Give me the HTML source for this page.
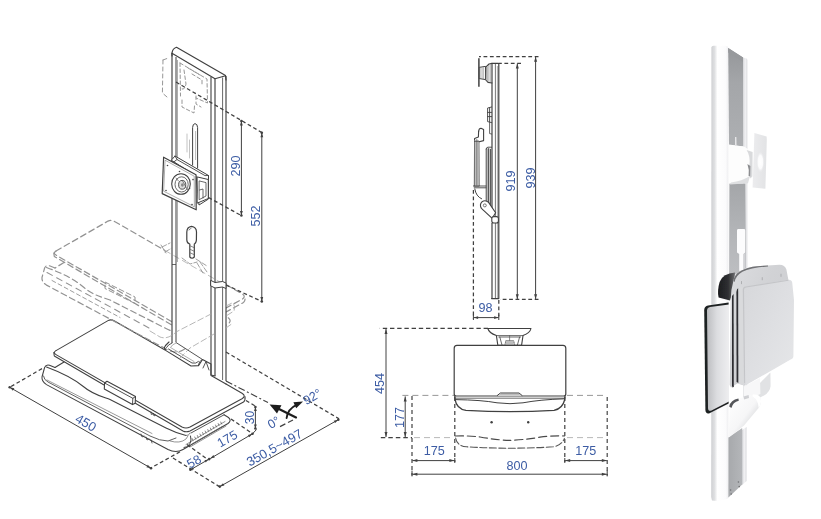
<!DOCTYPE html>
<html lang="en"><head><meta charset="utf-8"><title>Wall mount workstation dimensions</title>
<style>
html,body{margin:0;padding:0;background:#fff;}
body{width:821px;height:519px;overflow:hidden;}
svg{display:block;font-family:"Liberation Sans","DejaVu Sans",sans-serif;}
</style></head><body>
<svg width="821" height="519" viewBox="0 0 821 519">
<defs>
<filter id="soft" x="-5%" y="-5%" width="110%" height="110%"><feGaussianBlur stdDeviation="0.55"/></filter>
<filter id="soft2" x="-5%" y="-5%" width="110%" height="110%"><feGaussianBlur stdDeviation="0.7"/></filter>

<linearGradient id="gcol" x1="0" x2="1" y1="0" y2="0"><stop offset="0" stop-color="#cfd0d3"/><stop offset="0.2" stop-color="#dfe0e2"/><stop offset="0.36" stop-color="#ffffff"/><stop offset="0.85" stop-color="#fbfbfc"/><stop offset="1" stop-color="#eeeeF0"/></linearGradient>
<linearGradient id="ggrey" x1="0" x2="0" y1="0" y2="1"><stop offset="0" stop-color="#949699"/><stop offset="0.35" stop-color="#a4a6a9"/><stop offset="1" stop-color="#adafb2"/></linearGradient>
<linearGradient id="ggrey3" x1="0" x2="1" y1="0" y2="0"><stop offset="0" stop-color="#a7a9ac"/><stop offset="1" stop-color="#b4b6b9"/></linearGradient>
<radialGradient id="gglow" cx="0.5" cy="0.5" r="0.5"><stop offset="0" stop-color="#ffffff"/><stop offset="0.6" stop-color="#fbfbfc"/><stop offset="1" stop-color="#e6e7e9" stop-opacity="0"/></radialGradient>
<linearGradient id="ggrey2" x1="0" x2="0" y1="0" y2="1"><stop offset="0" stop-color="#a4a6a9"/><stop offset="0.4" stop-color="#b2b4b7"/><stop offset="1" stop-color="#c3c4c7"/></linearGradient>
<linearGradient id="gedge" x1="0" x2="1" y1="0" y2="0"><stop offset="0" stop-color="#d4d5d8"/><stop offset="0.5" stop-color="#f2f2f4"/><stop offset="1" stop-color="#dcdde0"/></linearGradient>
<linearGradient id="gtrayb" x1="0" x2="1" y1="0" y2="1"><stop offset="0" stop-color="#dcdde0"/><stop offset="0.4" stop-color="#d1d2d5"/><stop offset="1" stop-color="#cbccd0"/></linearGradient>
<linearGradient id="gtrayf" x1="0" x2="1" y1="0" y2="1"><stop offset="0" stop-color="#d6d7da"/><stop offset="0.5" stop-color="#dedfe2"/><stop offset="1" stop-color="#e6e7e9"/></linearGradient>
<linearGradient id="gkb" x1="0" x2="1" y1="0" y2="0"><stop offset="0" stop-color="#bcbdc0"/><stop offset="0.45" stop-color="#dcdde0"/><stop offset="1" stop-color="#eeeef0"/></linearGradient>
<linearGradient id="gcyl" x1="0" x2="1" y1="0" y2="1"><stop offset="0" stop-color="#ffffff"/><stop offset="0.5" stop-color="#f6f6f7"/><stop offset="0.8" stop-color="#cfd0d3"/><stop offset="1" stop-color="#b9babd"/></linearGradient>
<linearGradient id="gvesa" x1="0" x2="1" y1="0" y2="0"><stop offset="0" stop-color="#ececee"/><stop offset="1" stop-color="#e2e3e5"/></linearGradient>
<linearGradient id="gblk" x1="0" x2="1" y1="0" y2="0"><stop offset="0" stop-color="#1b1c1e"/><stop offset="0.6" stop-color="#2f3032"/><stop offset="1" stop-color="#6d6e71"/></linearGradient>

</defs>
<rect width="821" height="519" fill="#ffffff"/>
<g filter="url(#soft)">
<g id="iso">
<path d="M56,350.6 L108,320.6 Q111,319 114.5,321 L166,351 L191,366 L198.5,365.6 L211,372 L226,384 L242,393.3 Q246.5,396 243.5,402 L190,431 Q186,432.6 183,431 L54.3,356 Z" stroke="#fff" stroke-width="0.1" fill="#fff" stroke-linejoin="round" stroke-linecap="round"/>
<path d="M56,350.6 L108,320.6 Q111,319 114.5,321 L165,350" stroke="#404040" stroke-width="1.05" fill="none" stroke-linejoin="round" stroke-linecap="round"/>
<path d="M56,350.6 Q52.5,352.5 56,354.6 L182,427 Q186,429 190,427 L242,398.8 Q246.5,396 242,393.3 L226,384" stroke="#404040" stroke-width="1.05" fill="none" stroke-linejoin="round" stroke-linecap="round"/>
<path d="M53.8,352.6 L54.3,356 L183,431 Q186,432.6 190,431 L243.5,402 Q245.5,400.5 245,396.5" stroke="#404040" stroke-width="1.05" fill="none" stroke-linejoin="round" stroke-linecap="round"/>
<path d="M211,375.5 L226,384" stroke="#404040" stroke-width="1.1" fill="none" stroke-linejoin="round" stroke-linecap="round"/>
<path d="M104.6,383 L107,381.2 L135.5,396.6 L135.2,403.2 L132.5,404.6 L104.3,389 Z" stroke="#404040" stroke-width="1.1" fill="#fff" stroke-linejoin="round" stroke-linecap="round"/>
<path d="M104.6,383 L132.8,398.3 L135.5,396.6 M132.8,398.3 L132.5,404.6" stroke="#404040" stroke-width="0.9" fill="none" stroke-linejoin="round" stroke-linecap="round"/>
<path d="M151,412 L151.3,414.5 L153,414 M153.5,413.4 L154,416 L155.6,415" stroke="#404040" stroke-width="0.8" fill="none" stroke-linejoin="round" stroke-linecap="round"/>
<path d="M64,362 L55,367.5" stroke="#404040" stroke-width="1.05" fill="none" stroke-linejoin="round" stroke-linecap="round"/>
<path d="M55,367.5 L49.5,365.3 Q46,364.3 44.6,367.5 L42,377 Q41.5,381.5 46.5,384.6 L168,449.5 Q176,453.5 183,449.5 L228,423.5 Q232,420.5 228.5,417.5 L224,414.8" stroke="#404040" stroke-width="1.05" fill="none" stroke-linejoin="round" stroke-linecap="round"/>
<path d="M46.5,367 C60,372 72,377 84,387 C92,394 100,396 110,399.5 L166,428 Q176,433 186,435.5" stroke="#404040" stroke-width="1.05" fill="none" stroke-linejoin="round" stroke-linecap="round"/>
<path d="M43.5,376 Q44,380 48,382 L150,436 Q160,441 168,441 L176,438" stroke="#404040" stroke-width="0.8400000000000001" fill="none" stroke-linejoin="round" stroke-linecap="round"/>
<path d="M47,380 L152,433.5" stroke="#777" stroke-width="0.735" fill="none" stroke-linejoin="round" stroke-linecap="round"/>
<path d="M170,441 Q180,444 186,439 L188,435.8 M186,435.5 Q189,436 190,433 M190,447 L226,426 M192,444 L222,426.6 M186,444.5 L225,421.5" stroke="#666" stroke-width="0.7" fill="none" stroke-linejoin="round" stroke-linecap="round"/>
<path d="M184,447.5 Q190,447 191,440 L190.5,436" stroke="#404040" stroke-width="1.0" fill="none" stroke-linejoin="round" stroke-linecap="round"/>
<path d="M141,434 l1,3 l2,-1 M146,437 l1,3 l2,-1 M151,440 l1,3" stroke="#444" stroke-width="0.8" fill="none" stroke-linejoin="round" stroke-linecap="round"/>
<line x1="192.0" y1="438.2" x2="193.2" y2="440.8" stroke="#555" stroke-width="0.7" stroke-linecap="butt"/>
<line x1="194.6" y1="436.7" x2="195.79999999999998" y2="439.3" stroke="#555" stroke-width="0.7" stroke-linecap="butt"/>
<line x1="197.2" y1="435.2" x2="198.39999999999998" y2="437.8" stroke="#555" stroke-width="0.7" stroke-linecap="butt"/>
<line x1="199.8" y1="433.7" x2="201.0" y2="436.3" stroke="#555" stroke-width="0.7" stroke-linecap="butt"/>
<line x1="202.4" y1="432.2" x2="203.6" y2="434.8" stroke="#555" stroke-width="0.7" stroke-linecap="butt"/>
<line x1="205.0" y1="430.7" x2="206.2" y2="433.3" stroke="#555" stroke-width="0.7" stroke-linecap="butt"/>
<line x1="207.6" y1="429.2" x2="208.79999999999998" y2="431.8" stroke="#555" stroke-width="0.7" stroke-linecap="butt"/>
<line x1="210.2" y1="427.7" x2="211.39999999999998" y2="430.3" stroke="#555" stroke-width="0.7" stroke-linecap="butt"/>
<line x1="212.8" y1="426.2" x2="214.0" y2="428.8" stroke="#555" stroke-width="0.7" stroke-linecap="butt"/>
<line x1="215.4" y1="424.7" x2="216.6" y2="427.3" stroke="#555" stroke-width="0.7" stroke-linecap="butt"/>
<line x1="218.0" y1="423.2" x2="219.2" y2="425.8" stroke="#555" stroke-width="0.7" stroke-linecap="butt"/>
<line x1="220.6" y1="421.7" x2="221.79999999999998" y2="424.3" stroke="#555" stroke-width="0.7" stroke-linecap="butt"/>
<path d="M224,414.8 L191,433" stroke="#404040" stroke-width="0.9" fill="none" stroke-linejoin="round" stroke-linecap="round"/>
<path d="M56,251.10000000000002 L108,221.10000000000002 Q111,219.5 114.5,221.5 L165,250.5" stroke="#929292" stroke-width="1.2" fill="none" stroke-dasharray="6 3.5" stroke-linejoin="round" stroke-linecap="round"/>
<path d="M56,251.10000000000002 Q52.5,253.0 56,255.10000000000002 L182,327.5 Q186,329.5 190,327.5 L242,299.3 Q246.5,296.5 242,293.8 L226,284.5" stroke="#929292" stroke-width="1.2" fill="none" stroke-dasharray="6 3.5" stroke-linejoin="round" stroke-linecap="round"/>
<path d="M53.8,253.10000000000002 L54.3,256.5 L183,331.5 Q186,333.1 190,331.5 L243.5,302.5 Q245.5,301.0 245,297.0" stroke="#929292" stroke-width="1.2" fill="none" stroke-dasharray="6 3.5" stroke-linejoin="round" stroke-linecap="round"/>
<path d="M64,262.5 L55,268.0" stroke="#929292" stroke-width="1.2" fill="none" stroke-dasharray="6 3.5" stroke-linejoin="round" stroke-linecap="round"/>
<path d="M55,268.0 L49.5,265.8 Q46,264.8 44.6,268.0 L42,277.5 Q41.5,282.0 46.5,285.1 L168,350.0 Q176,354.0 183,350.0 L228,324.0 Q232,321.0 228.5,318.0 L224,315.3" stroke="#929292" stroke-width="1.2" fill="none" stroke-dasharray="6 3.5" stroke-linejoin="round" stroke-linecap="round"/>
<path d="M46.5,267.5 C60,272.5 72,277.5 84,287.5 C92,294.5 100,296.5 110,300.0 L166,328.5 Q176,333.5 186,336.0" stroke="#929292" stroke-width="1.2" fill="none" stroke-dasharray="6 3.5" stroke-linejoin="round" stroke-linecap="round"/>
<path d="M47,272.5 L150,328.5" stroke="#929292" stroke-width="1.1" fill="none" stroke-dasharray="6 5" stroke-linejoin="round" stroke-linecap="round"/>
<path d="M52,280.5 L120,317.5" stroke="#929292" stroke-width="0.9" fill="none" stroke-dasharray="4 3" stroke-linejoin="round" stroke-linecap="round"/>
<path d="M105,282.0 L135,297.0 L135,303.5 L105,288.5 Z" stroke="#929292" stroke-width="1.0" fill="none" stroke-dasharray="5 3" stroke-linejoin="round" stroke-linecap="round"/>
<path d="M172,53 L176,47.2 L226,76 L226,380 L222.5,380 L215,375.5 L211,375 L211,363 L176,343 L172,343 Z" stroke="#fff" stroke-width="0.1" fill="#fff" stroke-linejoin="round" stroke-linecap="round"/>
<path d="M165,250.5 L226,285.5" stroke="#b5b5b5" stroke-width="0.9" fill="none" stroke-dasharray="6 4" stroke-linejoin="round" stroke-linecap="round"/>
<path d="M150,328.5 L226,370.5" stroke="#b5b5b5" stroke-width="0.0" fill="none" stroke-linejoin="round" stroke-linecap="round"/>
<path d="M172,56 L172,53 Q172.6,48.5 176.5,47.3 L225.5,75.6 L226,80" stroke="#404040" stroke-width="1.2" fill="none" stroke-linejoin="round" stroke-linecap="round"/>
<path d="M172,53.2 L215,78.8 L225.5,75.8" stroke="#404040" stroke-width="1.1" fill="none" stroke-linejoin="round" stroke-linecap="round"/>
<line x1="172" y1="53" x2="172" y2="343" stroke="#404040" stroke-width="1.15" stroke-linecap="butt"/>
<line x1="176" y1="57" x2="176" y2="342" stroke="#404040" stroke-width="1.0" stroke-linecap="butt"/>
<line x1="177.4" y1="60" x2="177.4" y2="262" stroke="#666" stroke-width="0.6" stroke-linecap="butt"/>
<line x1="211" y1="77" x2="211" y2="375" stroke="#404040" stroke-width="1.1" stroke-linecap="butt"/>
<line x1="215" y1="79" x2="215" y2="376" stroke="#404040" stroke-width="1.15" stroke-linecap="butt"/>
<line x1="222.6" y1="77.5" x2="222.6" y2="380" stroke="#555" stroke-width="0.9" stroke-linecap="butt"/>
<line x1="226" y1="76" x2="226" y2="381" stroke="#404040" stroke-width="1.15" stroke-linecap="butt"/>
<line x1="172" y1="264.5" x2="176" y2="264.5" stroke="#404040" stroke-width="0.8" stroke-linecap="butt"/>
<path d="M211,280.5 L215,282.5 L222.5,281.5 L226,283 L226,288.5 L222.5,287 L215,288 L211,286 Z" stroke="#404040" stroke-width="1.0" fill="#fff" stroke-linejoin="round" stroke-linecap="round"/>
<path d="M192.6,165 L192.6,127.5 Q192.8,123.8 195,123.6 Q197.4,123.8 197.6,127.5 L197.6,168" stroke="#404040" stroke-width="1.0" fill="none" stroke-linejoin="round" stroke-linecap="round"/>
<line x1="195.6" y1="131" x2="195.6" y2="160" stroke="#888" stroke-width="0.6" stroke-linecap="butt"/>
<path d="M187,134 L187,152 M189.5,140 L189.5,158" stroke="#aaa" stroke-width="0.7" fill="none" stroke-linejoin="round" stroke-linecap="round"/>
<path d="M163,60 L167,58.5 M163,60 L162.4,93 L167,97" stroke="#969696" stroke-width="1.0" fill="none" stroke-dasharray="4 3" stroke-linejoin="round" stroke-linecap="round"/>
<path d="M180,63 L207,79 L207.5,103 L196,98 M180,63 L180.5,96 M184,70 L186,84 Q184,92 181,88 M188,68 L200,75 M192,74 L202,80 L202,86 M196,96 L196,104 L201,107 M182,100 L182,107 L194,113 L194.5,106" stroke="#969696" stroke-width="1.0" fill="none" stroke-dasharray="3.5 2.5" stroke-linejoin="round" stroke-linecap="round"/>
<path d="M171.5,160 L175,156 L208.5,175.5 L208.5,199 L199,205 L196,176 Z" stroke="#404040" stroke-width="1.0" fill="#fff" stroke-linejoin="round" stroke-linecap="round"/>
<path d="M175,156 L177,159.5 L205,175.6 L208.5,175.5 M177,159.5 L173,162.6" stroke="#404040" stroke-width="0.9" fill="none" stroke-linejoin="round" stroke-linecap="round"/>
<path d="M197.5,177 L208.3,179.5 L208.3,198.5 L197.5,203 Z" stroke="#404040" stroke-width="1.0" fill="#fff" stroke-linejoin="round" stroke-linecap="round"/>
<path d="M199.5,181 L206,182.6 L206,196 L199.5,199.5 Z M199.5,190 L203,189 L203,198" stroke="#444" stroke-width="0.8" fill="none" stroke-linejoin="round" stroke-linecap="round"/>
<path d="M163.6,157.2 L196,174.8 L196.2,209.8 L162.2,193.6 Z" stroke="#404040" stroke-width="1.2" fill="#fff" stroke-linejoin="round" stroke-linecap="round"/>
<path d="M165.4,160.4 L194.2,176.2 L194.4,206.8 L164,191.4 Z" stroke="#777" stroke-width="0.6" fill="none" stroke-linejoin="round" stroke-linecap="round"/>
<ellipse cx="181" cy="184" rx="9.3" ry="10.3" fill="#fff" stroke="#404040" stroke-width="1.1"/>
<ellipse cx="181.6" cy="184.4" rx="6.6" ry="7.6" fill="none" stroke="#444" stroke-width="0.8"/>
<ellipse cx="182.2" cy="184.8" rx="3.6" ry="4.4" fill="#ddd" stroke="#404040" stroke-width="0.9"/>
<ellipse cx="182.4" cy="185" rx="1.4" ry="1.8" fill="#888" stroke="none"/>
<path d="M182.2,180.4 L188,190.5 M176,178 L178.5,181" stroke="#555" stroke-width="0.7" fill="none" stroke-linejoin="round" stroke-linecap="round"/>
<circle cx="167.5" cy="165.5" r="0.8" fill="#444"/>
<circle cx="193" cy="179.6" r="0.8" fill="#444"/>
<circle cx="166" cy="190.5" r="0.8" fill="#444"/>
<circle cx="192" cy="204.5" r="0.8" fill="#444"/>
<circle cx="179.5" cy="171.5" r="0.8" fill="#444"/>
<circle cx="189.5" cy="188.5" r="0.8" fill="#444"/>
<path d="M186.8,232 Q187,227 191.5,226.4 Q196.4,227 196.5,232 L196.4,240 Q196,243.5 194.3,244 L194.3,257 Q192,259.5 189.8,257 L189.8,244 Q187,243.5 186.8,240 Z" stroke="#404040" stroke-width="1.2" fill="#fff" stroke-linejoin="round" stroke-linecap="round"/>
<path d="M189,230 Q189.5,228.6 191,228.4 M190.5,246 L193.6,247.4 M190.5,249.5 L193.6,251 M190.5,253 L193.6,254.4" stroke="#555" stroke-width="0.7" fill="none" stroke-linejoin="round" stroke-linecap="round"/>
<path d="M162,247 L170,243 M165,252 L172,248 M161,245 L166,253" stroke="#8a8a8a" stroke-width="0.8" fill="none" stroke-dasharray="5 2" stroke-linejoin="round" stroke-linecap="round"/>
<path d="M182,258 L190,264 L197,262 M196,259 L207,266 M200,262 L207,272 M197,263 L203,273" stroke="#8a8a8a" stroke-width="0.8" fill="none" stroke-dasharray="5 2" stroke-linejoin="round" stroke-linecap="round"/>
<path d="M169,342 L165.5,345.5 L164.3,347.8 L166,350.6 L191,366 L198.5,365.6 L202.5,359.5 L211,364 L211,375 L215,376" stroke="#404040" stroke-width="1.1" fill="none" stroke-linejoin="round" stroke-linecap="round"/>
<path d="M172,343 Q168,344.5 166.5,347.5 M176,342.5 L202.5,359.5 M168.5,349 L192,363 Q196,364 198.5,361.5 M202.5,359.5 Q199,360.5 198.5,365.6 M203,368 L206,361.5 L209,370" stroke="#404040" stroke-width="0.9" fill="none" stroke-linejoin="round" stroke-linecap="round"/>
<path d="M176,343 Q172,344.5 170.5,347.5 L194,361.5" stroke="#777" stroke-width="0.6" fill="none" stroke-linejoin="round" stroke-linecap="round"/>
<path d="M150,331 L160,337 Q168,340 176,332 L211,314 M226,306 L232,303 Q236,305 234,311 L226,316 M180,358 L190,348 L214,334 M226,328 L233,323" stroke="#a5a5a5" stroke-width="0.8" fill="none" stroke-dasharray="6 3" stroke-linejoin="round" stroke-linecap="round"/>
<line x1="176" y1="82" x2="262" y2="132.6" stroke="#404040" stroke-width="1.25" stroke-dasharray="3.8 2.6" stroke-linecap="butt"/>
<line x1="208.5" y1="197.5" x2="241.4" y2="215.6" stroke="#404040" stroke-width="1.25" stroke-dasharray="3.8 2.6" stroke-linecap="butt"/>
<line x1="226" y1="285" x2="262" y2="301.5" stroke="#404040" stroke-width="1.25" stroke-dasharray="3.8 2.6" stroke-linecap="butt"/>
<line x1="226" y1="352" x2="339" y2="418.8" stroke="#404040" stroke-width="1.25" stroke-dasharray="3.8 2.6" stroke-linecap="butt"/>
<line x1="226" y1="381" x2="268" y2="402.6" stroke="#404040" stroke-width="1.1" stroke-dasharray="7 2.5 2 2.5" stroke-linecap="butt"/>
<line x1="42" y1="368.6" x2="9.7" y2="387.3" stroke="#404040" stroke-width="1.25" stroke-dasharray="3.8 2.6" stroke-linecap="butt"/>
<line x1="180" y1="451.8" x2="150.7" y2="468" stroke="#404040" stroke-width="1.25" stroke-dasharray="3.8 2.6" stroke-linecap="butt"/>
<line x1="173" y1="458" x2="220" y2="487" stroke="#404040" stroke-width="1.25" stroke-dasharray="3.8 2.6" stroke-linecap="butt"/>
<line x1="187" y1="444.5" x2="208.5" y2="460" stroke="#404040" stroke-width="1.25" stroke-dasharray="3.8 2.6" stroke-linecap="butt"/>
<line x1="231" y1="419" x2="253" y2="434" stroke="#404040" stroke-width="1.25" stroke-dasharray="3.8 2.6" stroke-linecap="butt"/>
<line x1="246" y1="400.5" x2="255.5" y2="406.2" stroke="#404040" stroke-width="1.25" stroke-dasharray="3.8 2.6" stroke-linecap="butt"/>
<line x1="280" y1="426.6" x2="293" y2="420" stroke="#404040" stroke-width="1.2" stroke-dasharray="6 3" stroke-linecap="butt"/>
<line x1="241.4" y1="121" x2="241.4" y2="215.5" stroke="#404040" stroke-width="1.0" stroke-linecap="butt"/>
<polygon points="241.4,215.5 240.0,211.0 242.8,211.0" fill="#404040"/>
<polygon points="241.4,121.0 242.8,125.5 240.0,125.5" fill="#404040"/>
<line x1="261.8" y1="132.7" x2="261.8" y2="301.5" stroke="#404040" stroke-width="1.0" stroke-linecap="butt"/>
<polygon points="261.8,301.5 260.4,297.0 263.2,297.0" fill="#404040"/>
<polygon points="261.8,132.7 263.2,137.2 260.4,137.2" fill="#404040"/>
<line x1="9.7" y1="387.3" x2="151" y2="468.2" stroke="#404040" stroke-width="1.0" stroke-linecap="butt"/>
<polygon points="151.0,468.2 146.4,467.2 147.8,464.7" fill="#404040"/>
<polygon points="9.7,387.3 14.3,388.3 12.9,390.8" fill="#404040"/>
<line x1="219.8" y1="486.6" x2="338.3" y2="419.7" stroke="#404040" stroke-width="1.0" stroke-linecap="butt"/>
<polygon points="338.3,419.7 335.1,423.1 333.7,420.7" fill="#404040"/>
<polygon points="219.8,486.6 223.0,483.2 224.4,485.6" fill="#404040"/>
<line x1="190.4" y1="469.8" x2="208.2" y2="459.6" stroke="#404040" stroke-width="1.0" stroke-linecap="butt"/>
<polygon points="208.2,459.6 205.8,462.5 204.5,460.2" fill="#404040"/>
<polygon points="190.4,469.8 192.8,466.9 194.1,469.2" fill="#404040"/>
<line x1="210.2" y1="458.6" x2="252.5" y2="433.8" stroke="#404040" stroke-width="1.0" stroke-linecap="butt"/>
<polygon points="252.5,433.8 249.3,437.3 247.9,434.9" fill="#404040"/>
<polygon points="210.2,458.6 213.4,455.1 214.8,457.5" fill="#404040"/>
<line x1="255.4" y1="407" x2="255.4" y2="428.5" stroke="#404040" stroke-width="1.0" stroke-linecap="butt"/>
<polygon points="255.4,428.5 254.0,424.5 256.8,424.5" fill="#404040"/>
<polygon points="255.4,407.0 256.8,411.0 254.0,411.0" fill="#404040"/>
<line x1="252.5" y1="433.8" x2="256.5" y2="429.5" stroke="#404040" stroke-width="1.0" stroke-linecap="butt"/>
<circle cx="241.4" cy="121" r="1.3" fill="#404040"/>
<circle cx="241.4" cy="215.5" r="1.3" fill="#404040"/>
<circle cx="261.8" cy="132.7" r="1.3" fill="#404040"/>
<circle cx="261.8" cy="301.5" r="1.3" fill="#404040"/>
<circle cx="9.7" cy="387.3" r="1.3" fill="#404040"/>
<circle cx="151" cy="468.2" r="1.3" fill="#404040"/>
<circle cx="219.8" cy="486.6" r="1.3" fill="#404040"/>
<circle cx="338.3" cy="419.7" r="1.3" fill="#404040"/>
<circle cx="190.4" cy="469.8" r="1.3" fill="#404040"/>
<circle cx="209.2" cy="459.1" r="1.3" fill="#404040"/>
<circle cx="252.5" cy="433.8" r="1.3" fill="#404040"/>
<circle cx="255.4" cy="407" r="1.3" fill="#404040"/>
<circle cx="255.4" cy="428.5" r="1.3" fill="#404040"/>
<path d="M296,417.4 L279,409" stroke="#1c1c1c" stroke-width="2.2" fill="none" stroke-linejoin="round" stroke-linecap="round"/>
<polygon points="269.6,404.6 281.5,405.2 277,413.6" fill="#1c1c1c"/>
<path d="M286.6,418.2 Q287.5,409 297,404.6" stroke="#1c1c1c" stroke-width="1.8" fill="none" stroke-linejoin="round" stroke-linecap="round"/>
<polygon points="303,401.6 296.2,408.2 293.4,402.2" fill="#1c1c1c"/>
<text x="239.6" y="166" transform="rotate(-90 239.6 166)" font-size="12.6" fill="#3c5ca4" text-anchor="middle">290</text>
<text x="260" y="216" transform="rotate(-90 260 216)" font-size="12.6" fill="#3c5ca4" text-anchor="middle">552</text>
<text x="83.6" y="426.6" transform="rotate(30 83.6 426.6)" font-size="13" fill="#3c5ca4" text-anchor="middle">450</text>
<text x="196.2" y="465.2" transform="rotate(-30 196.2 465.2)" font-size="12.6" fill="#3c5ca4" text-anchor="middle">58</text>
<text x="229.4" y="442.4" transform="rotate(-30 229.4 442.4)" font-size="12.6" fill="#3c5ca4" text-anchor="middle">175</text>
<text x="253.6" y="417.6" transform="rotate(-90 253.6 417.6)" font-size="12" fill="#3c5ca4" text-anchor="middle">30</text>
<text x="276.6" y="451.6" transform="rotate(-29.5 276.6 451.6)" font-size="13" fill="#3c5ca4" text-anchor="middle">350,5~497</text>
<text x="276" y="426.2" transform="rotate(-30 276 426.2)" font-size="12.6" fill="#3c5ca4" text-anchor="middle">0°</text>
<text x="314.4" y="400.4" transform="rotate(-30 314.4 400.4)" font-size="12.6" fill="#3c5ca4" text-anchor="middle">92°</text>
</g>
<g id="side">
<line x1="538.5" y1="56.6" x2="479" y2="56.6" stroke="#404040" stroke-width="1.25" stroke-dasharray="3.8 2.6" stroke-linecap="butt"/>
<line x1="521" y1="63.4" x2="498.6" y2="63.4" stroke="#404040" stroke-width="1.25" stroke-dasharray="3.8 2.6" stroke-linecap="butt"/>
<line x1="478.9" y1="58.2" x2="478.9" y2="86.8" stroke="#404040" stroke-width="1.5" stroke-linecap="butt"/>
<path d="M479.6,67.3 L485.6,66.4 L485.6,79.6 L479.6,78.6 Z" stroke="#404040" stroke-width="1.0" fill="#fff" stroke-linejoin="round" stroke-linecap="round"/>
<path d="M480.8,68 L480.8,78 M482.2,68 L482.2,78.4 M483.6,67.6 L483.6,78.8" stroke="#777" stroke-width="0.5" fill="none" stroke-linejoin="round" stroke-linecap="round"/>
<path d="M492,63.4 L489,64 L486,66.8 L485.8,80 L488,82.4 L492,83" stroke="#404040" stroke-width="1.1" fill="#fff" stroke-linejoin="round" stroke-linecap="round"/>
<path d="M487.4,67 L487.4,80.6 M488.8,65.4 L488.8,81.8 M490.3,64.6 L490.3,82.4" stroke="#666" stroke-width="0.5" fill="none" stroke-linejoin="round" stroke-linecap="round"/>
<path d="M492,63.4 L498.2,63.4 Q498.8,63.4 498.8,64.4 L498.8,298.6 L491.6,298.6" stroke="#404040" stroke-width="1.2" fill="none" stroke-linejoin="round" stroke-linecap="round"/>
<line x1="492" y1="63.4" x2="492" y2="216.5" stroke="#404040" stroke-width="1.2" stroke-linecap="butt"/>
<line x1="492" y1="223" x2="492" y2="298.6" stroke="#404040" stroke-width="1.2" stroke-linecap="butt"/>
<line x1="495.4" y1="64" x2="495.4" y2="298" stroke="#555" stroke-width="0.8" stroke-linecap="butt"/>
<line x1="497.4" y1="66" x2="497.4" y2="298" stroke="#777" stroke-width="0.6" stroke-linecap="butt"/>
<path d="M491.6,107 L487.6,108 L487.6,121.6 L491.6,122.6 M487.6,112.4 L491.6,112.4 M487.6,116.6 L491.6,116.6 M489.6,108 L489.6,122" stroke="#404040" stroke-width="0.9" fill="none" stroke-linejoin="round" stroke-linecap="round"/>
<path d="M489.6,122.6 L489.6,133.6 L491.6,134" stroke="#404040" stroke-width="0.8" fill="none" stroke-linejoin="round" stroke-linecap="round"/>
<path d="M478.6,131.6 Q478.8,128.4 481,128.3 L483.6,129.6 L483.6,140.6 L479.2,141.8" stroke="#404040" stroke-width="1.1" fill="#fff" stroke-linejoin="round" stroke-linecap="round"/>
<path d="M478.6,131.6 L478.4,137 L474.6,138.4 L474.4,186 L479,186 L478.8,141.8" stroke="#404040" stroke-width="1.1" fill="#fff" stroke-linejoin="round" stroke-linecap="round"/>
<rect x="474.6" y="140" width="4.2" height="46" fill="#bdbdbd"/>
<line x1="476.8" y1="139" x2="476.8" y2="185.6" stroke="#666" stroke-width="0.7" stroke-linecap="butt"/>
<path d="M474.4,141.4 L478.8,141.4" stroke="#404040" stroke-width="0.7" fill="none" stroke-linejoin="round" stroke-linecap="round"/>
<rect x="486.4" y="148.4" width="4.2" height="56" fill="#c4c4c4"/>
<path d="M486.2,149 Q486.3,147.2 488,147.2 L491.6,147.2 M486.2,149 L486.2,203 M490.6,149.4 L490.6,210 M488.4,148.6 L488.4,206" stroke="#404040" stroke-width="0.9" fill="none" stroke-linejoin="round" stroke-linecap="round"/>
<path d="M473.4,186 L486,186 M474.2,187.8 L486,187.8" stroke="#404040" stroke-width="0.9" fill="none" stroke-linejoin="round" stroke-linecap="round"/>
<path d="M474.8,189 Q476,196.4 481.6,198.8" stroke="#404040" stroke-width="1.0" fill="none" stroke-linejoin="round" stroke-linecap="round"/>
<path d="M481.4,208.4 Q479.2,204.6 482,201.8 Q485.4,199.4 488.6,202.4 L495.6,212.8 L492.2,218.4 Z" stroke="#404040" stroke-width="1.1" fill="#fff" stroke-linejoin="round" stroke-linecap="round"/>
<ellipse cx="484.8" cy="205.4" rx="1.5" ry="1.5" fill="none" stroke="#404040" stroke-width="0.7"/>
<rect x="491.8" y="216.6" width="6.6" height="6.4" rx="2" fill="#fff" stroke="#404040" stroke-width="1.1"/>
<line x1="473.4" y1="190" x2="473.4" y2="318.6" stroke="#404040" stroke-width="1.25" stroke-dasharray="3.8 2.6" stroke-linecap="butt"/>
<line x1="498.8" y1="300" x2="498.8" y2="318.6" stroke="#404040" stroke-width="1.25" stroke-dasharray="3.8 2.6" stroke-linecap="butt"/>
<line x1="538.5" y1="299.4" x2="500" y2="299.4" stroke="#404040" stroke-width="1.25" stroke-dasharray="3.8 2.6" stroke-linecap="butt"/>
<line x1="517.3" y1="63.6" x2="517.3" y2="299.2" stroke="#404040" stroke-width="1.0" stroke-linecap="butt"/>
<polygon points="517.3,299.2 515.8,294.2 518.8,294.2" fill="#404040"/>
<polygon points="517.3,63.6 518.8,68.6 515.8,68.6" fill="#404040"/>
<line x1="535.6" y1="56.8" x2="535.6" y2="299.2" stroke="#404040" stroke-width="1.0" stroke-linecap="butt"/>
<polygon points="535.6,299.2 534.1,294.2 537.1,294.2" fill="#404040"/>
<polygon points="535.6,56.8 537.1,61.8 534.1,61.8" fill="#404040"/>
<line x1="473.6" y1="317.6" x2="498.6" y2="317.6" stroke="#404040" stroke-width="1.0" stroke-linecap="butt"/>
<polygon points="498.6,317.6 494.1,319.0 494.1,316.2" fill="#404040"/>
<polygon points="473.6,317.6 478.1,316.2 478.1,319.0" fill="#404040"/>
<line x1="473.4" y1="314.6" x2="473.4" y2="320" stroke="#404040" stroke-width="1.0" stroke-linecap="butt"/>
<line x1="498.8" y1="314.6" x2="498.8" y2="320" stroke="#404040" stroke-width="1.0" stroke-linecap="butt"/>
<text x="515.4" y="181" transform="rotate(-90 515.4 181)" font-size="12.6" fill="#3c5ca4" text-anchor="middle">919</text>
<text x="535" y="178" transform="rotate(-90 535 178)" font-size="12.6" fill="#3c5ca4" text-anchor="middle">939</text>
<text x="485.4" y="311.8" transform="rotate(0 485.4 311.8)" font-size="12.6" fill="#3c5ca4" text-anchor="middle">98</text>
</g>
<g id="front">
<line x1="488" y1="328.4" x2="379.8" y2="328.4" stroke="#404040" stroke-width="1.25" stroke-dasharray="4.4 2.8" stroke-linecap="butt"/>
<line x1="402.4" y1="395.4" x2="454" y2="395.4" stroke="#8c8c8c" stroke-width="0.9" stroke-dasharray="6 4" stroke-linecap="butt"/>
<line x1="567" y1="395.4" x2="605" y2="395.4" stroke="#8c8c8c" stroke-width="0.9" stroke-dasharray="6 4" stroke-linecap="butt"/>
<line x1="380.8" y1="437.6" x2="412" y2="437.6" stroke="#404040" stroke-width="1.2" stroke-dasharray="4.5 3" stroke-linecap="butt"/>
<line x1="414" y1="437.6" x2="454" y2="437.6" stroke="#b0b0b0" stroke-width="0.9" stroke-dasharray="6 4" stroke-linecap="butt"/>
<line x1="567" y1="437.6" x2="605" y2="437.6" stroke="#b0b0b0" stroke-width="0.9" stroke-dasharray="6 4" stroke-linecap="butt"/>
<line x1="412" y1="396" x2="412" y2="475.6" stroke="#404040" stroke-width="1.2" stroke-dasharray="4 3" stroke-linecap="butt"/>
<line x1="454.8" y1="397" x2="454.8" y2="462" stroke="#404040" stroke-width="1.2" stroke-dasharray="4 3" stroke-linecap="butt"/>
<line x1="564.8" y1="397" x2="564.8" y2="462" stroke="#404040" stroke-width="1.2" stroke-dasharray="4 3" stroke-linecap="butt"/>
<line x1="607.2" y1="397" x2="607.2" y2="475.6" stroke="#444" stroke-width="1.2" stroke-dasharray="4 3" stroke-linecap="butt"/>
<path d="M487.8,328.5 L531,328.5 Q530,333 523,335.6 L521.6,345.2 L497.8,345.2 L496.4,335.6 Q489,333 487.8,328.5 Z" stroke="#404040" stroke-width="1.1" fill="#fff" stroke-linejoin="round" stroke-linecap="round"/>
<path d="M496.4,335.6 L523,335.6 M499.8,337 L502,345 M519.6,337 L517.4,345 M498.8,337 L520.6,337" stroke="#444" stroke-width="0.8" fill="none" stroke-linejoin="round" stroke-linecap="round"/>
<path d="M505,345 L505.8,340.6 L513.6,340.6 L514.4,345 M505.6,342.4 L514,342.4 M509.6,335.6 L509.6,340.6" stroke="#555" stroke-width="0.7" fill="none" stroke-linejoin="round" stroke-linecap="round"/>
<rect x="505.8" y="340.8" width="7.8" height="4.2" fill="#bdbdbd"/>
<path d="M457,345.3 L563,345.3 Q565.8,345.3 565.8,348.2 L565.8,394 Q565.8,396 563.6,396 L456.4,396 Q454.2,396 454.2,394 L454.2,348.2 Q454.2,345.3 457,345.3 Z" stroke="#404040" stroke-width="1.2" fill="#fff" stroke-linejoin="round" stroke-linecap="round"/>
<path d="M497.4,395.4 L500.4,393 L519,393 L522,395.4" stroke="#404040" stroke-width="1.0" fill="#fff" stroke-linejoin="round" stroke-linecap="round"/>
<line x1="499.6" y1="394.2" x2="519.8" y2="394.2" stroke="#777" stroke-width="0.7" stroke-linecap="butt"/>
<path d="M454.8,396.4 L455,399.4 Q456.6,409 466,410.4 Q510,413 554,410.4 Q562.6,408.6 564.6,400 L565,396.4" stroke="#404040" stroke-width="1.3" fill="none" stroke-linejoin="round" stroke-linecap="round"/>
<path d="M455.2,398.2 L564.8,398.2" stroke="#444" stroke-width="0.8" fill="none" stroke-linejoin="round" stroke-linecap="round"/>
<path d="M455.4,399.6 Q482,400 497,402.8 Q510,404.6 523,402.8 Q540,399.6 564.4,398.8" stroke="#404040" stroke-width="1.0" fill="none" stroke-linejoin="round" stroke-linecap="round"/>
<circle cx="491.6" cy="422.2" r="1.2" fill="#404040"/>
<circle cx="528.2" cy="422.2" r="1.2" fill="#404040"/>
<path d="M455.2,436 Q470,435.6 480,437 Q497,440 509,440.4 Q523,440 540,437.2 Q552,435.4 564.4,436" stroke="#4a4a4a" stroke-width="1.2" fill="none" stroke-dasharray="8 4" stroke-linejoin="round" stroke-linecap="round"/>
<path d="M455.6,438 Q457,446 466.6,446.8 Q510,449.6 553,446.8 Q561.6,445.6 564.4,438.4" stroke="#555" stroke-width="1.1" fill="none" stroke-dasharray="7 2.5" stroke-linejoin="round" stroke-linecap="round"/>
<line x1="386" y1="329" x2="386" y2="437" stroke="#404040" stroke-width="1.0" stroke-linecap="butt"/>
<polygon points="386.0,437.0 384.5,432.0 387.5,432.0" fill="#404040"/>
<polygon points="386.0,329.0 387.5,334.0 384.5,334.0" fill="#404040"/>
<line x1="405.2" y1="396.4" x2="405.2" y2="437" stroke="#404040" stroke-width="1.0" stroke-linecap="butt"/>
<polygon points="405.2,437.0 403.7,432.0 406.7,432.0" fill="#404040"/>
<polygon points="405.2,396.4 406.7,401.4 403.7,401.4" fill="#404040"/>
<line x1="412.4" y1="460.6" x2="454.4" y2="460.6" stroke="#404040" stroke-width="1.0" stroke-linecap="butt"/>
<polygon points="454.4,460.6 449.4,462.1 449.4,459.1" fill="#404040"/>
<polygon points="412.4,460.6 417.4,459.1 417.4,462.1" fill="#404040"/>
<line x1="565.2" y1="460.6" x2="606.8" y2="460.6" stroke="#404040" stroke-width="1.0" stroke-linecap="butt"/>
<polygon points="606.8,460.6 601.8,462.1 601.8,459.1" fill="#404040"/>
<polygon points="565.2,460.6 570.2,459.1 570.2,462.1" fill="#404040"/>
<line x1="412.4" y1="474.2" x2="606.8" y2="474.2" stroke="#404040" stroke-width="1.0" stroke-linecap="butt"/>
<polygon points="606.8,474.2 601.8,475.7 601.8,472.7" fill="#404040"/>
<polygon points="412.4,474.2 417.4,472.7 417.4,475.7" fill="#404040"/>
<line x1="412" y1="470.6" x2="412" y2="476.4" stroke="#404040" stroke-width="1.0" stroke-linecap="butt"/>
<line x1="607.2" y1="470.6" x2="607.2" y2="476.4" stroke="#404040" stroke-width="1.0" stroke-linecap="butt"/>
<line x1="454.8" y1="458" x2="454.8" y2="463" stroke="#404040" stroke-width="1.0" stroke-linecap="butt"/>
<line x1="564.8" y1="458" x2="564.8" y2="463" stroke="#404040" stroke-width="1.0" stroke-linecap="butt"/>
<text x="384.2" y="383.6" transform="rotate(-90 384.2 383.6)" font-size="12.6" fill="#3c5ca4" text-anchor="middle">454</text>
<text x="403.6" y="417.4" transform="rotate(-90 403.6 417.4)" font-size="12.6" fill="#3c5ca4" text-anchor="middle">177</text>
<text x="434.2" y="455" transform="rotate(0 434.2 455)" font-size="12.6" fill="#3c5ca4" text-anchor="middle">175</text>
<text x="585.8" y="455" transform="rotate(0 585.8 455)" font-size="12.6" fill="#3c5ca4" text-anchor="middle">175</text>
<text x="517" y="470" transform="rotate(0 517 470)" font-size="12.6" fill="#3c5ca4" text-anchor="middle">800</text>
</g>
</g><g id="photo" filter="url(#soft2)">
<path d="M711.4,47.5 Q711.6,45.8 713.5,45.8 L726,45.8 Q728,46.2 728.4,48 L728.4,498 L726,499.6 Q718,501.4 712,500.4 L711.2,497 Z" fill="url(#gcol)"/>
<path d="M728.2,48 L743,57.6 L743.4,146.6 L729,144.6 Z" fill="url(#ggrey)"/>
<path d="M728.2,48 L743,57.6 L743,62 L728.2,52.6 Z" fill="#97999c"/>
<path d="M743,57.4 L746.6,58.6 Q747.4,59 747.4,60.5 L747.4,400 L743.4,400 Z" fill="url(#gedge)"/>
<path d="M742,430 L746.6,427 L746.6,481 L742,485 Z" fill="url(#gedge)"/>
<path d="M729.4,183.4 L745.4,183.4 L746,268 L733,276 L729,300 Z" fill="url(#ggrey2)"/>
<path d="M728.4,437.4 L742.2,428 L742.2,484.6 L728.4,497.6 Z" fill="url(#ggrey3)"/>
<circle cx="738.4" cy="482" r="0.8" fill="#6f7073"/>
<circle cx="739.2" cy="486.6" r="0.8" fill="#6f7073"/>
<circle cx="730.6" cy="490" r="0.8" fill="#6f7073"/>
<circle cx="731.2" cy="494" r="0.8" fill="#6f7073"/>
<path d="M754.4,133 L766.6,136.6 L766.8,140 L765.4,188.8 L752.6,187.6 Z" fill="url(#gvesa)"/>
<ellipse cx="760.4" cy="162" rx="4" ry="11" fill="url(#gglow)"/>
<path d="M729,145 L744,146.6 L750,150.4 L751,176 L747,182 L729.4,183.6 Z" fill="#fdfdfd"/>
<path d="M746.6,150 Q750.6,156 749.4,166 Q748.4,174 750.4,178.4 L752.4,176.6 L752.6,152 Z" fill="#d9dadc"/>
<path d="M747.4,164 Q749.6,170 748.6,176 L750.2,176.8 L750.4,166 Z" fill="#8d8e91"/>
<path d="M735,137 L736.4,137 L736.6,146 L735,146 Z" fill="#e5e5e7"/>
<path d="M731,182.6 Q742,181 750,176 L748,183.2 L730,184.6 Z" fill="#dedfe1"/>
<path d="M737,230.4 Q737,229 738.4,229 L744,229 Q745.2,229 745.2,230.4 L745.2,252.6 L743.6,254 L743.6,270 L739.2,271 L739.2,254 L737,252.6 Z" fill="#fcfcfd"/>
<path d="M743.4,254 L745.4,253 L745.4,268 L743.4,269.6 Z" fill="#d2d3d6"/>
<path d="M735,272.6 Q723,273.4 719.6,282 Q717,291 718.6,297.6 L730,300.4 L733.6,290 Z" fill="url(#gblk)"/>
<path d="M733.4,281 Q734,274.6 741.6,270.6 Q748,267 757,266.2 L779.4,264.8 Q785,264.8 786.4,269.6 L788.4,280 L788.6,360 L744,385.4 L737.4,383.4 L731,387.6 L729.6,385 L730.6,300 Q730.8,290 733.4,281 Z" fill="url(#gtrayb)"/>
<path d="M733.4,281 Q734,274.6 741.6,270.6 Q748,267 757,266.2 L768,265.4 L768,266.4 Q750,267.8 742.4,271.8 Q735.4,276 734.6,282 Z" fill="#707174"/>
<path d="M732,296 L733.6,294 L733.8,386.4 L732.8,387.8 L732,386 Z" fill="#2e2f32"/>
<path d="M736.4,292 Q736.8,288.6 738.4,288 L738.6,383 L736.6,382 Z" fill="#2e2f32"/>
<path d="M738.4,288 L742.6,287 L744,385.2 L738.6,383.4 Z" fill="#d9dadc"/>
<path d="M742.8,289.6 Q742.8,286.8 745.6,286.4 L788.4,279.8 Q791.6,279.6 792.2,282.6 L794,300 L793.4,356 Q793.4,358.8 790.6,359.6 L746.6,384.8 Q744.4,385.4 744.2,383 Z" fill="url(#gtrayf)"/>
<path d="M742.8,289.6 Q742.8,286.8 745.6,286.4 L788.4,279.8 L788.5,280.8 L746,287.4 Q744,287.8 744,290 L745.2,383.4 L744.2,383 Z" fill="#c4c5c8"/>
<rect x="741" y="281.1" width="0.8" height="3" fill="#a4a5a8"/>
<rect x="761.8" y="277.20000000000005" width="0.8" height="3" fill="#a4a5a8"/>
<rect x="780.6" y="273.8" width="0.8" height="3" fill="#a4a5a8"/>
<path d="M704.2,310 Q704.4,306 708,305.4 L728.6,302.6 L728.6,403.4 L709,413.4 Q705.6,414 705.4,410 Z" fill="#1f2022"/>
<path d="M707,310 Q707.2,307.4 710,307 L729,304.4 L729,401.6 L711,410.8 Q708,411.2 708,408 Z" fill="url(#gkb)"/>
<path d="M760,383 L770.4,372.4 L770.6,386 Q770,392 764,395.6 L758,398.4 L752,396 Z" fill="#e1e2e4"/>
<path d="M744,386.6 L760,378 L760.4,394 L748,399 L744,397 Z" fill="#f7f7f8"/>
<path d="M729.6,406 Q731,400.4 737.6,399 L752.6,394.6 Q759,393.6 760.6,398.6 Q762,403.4 758.6,408 L744,425.4 L728.8,437.4 Z" fill="url(#gcyl)"/>
<path d="M752.6,394.6 Q759,393.6 760.6,398.6 Q762,403.4 758.6,408 Q758.6,400 752.6,396.4 Z" fill="#ffffff"/>
<path d="M743.6,396.6 L748.6,395 L749,398 L744,399.6 Z" fill="#cfd0d3"/>
<path d="M729.2,406.6 Q730.6,400 738.4,398.6 L738.8,400.8 Q732.8,402.4 731.4,408 Z" fill="#55565a"/>
</g><g>
</g>
</svg>
</body></html>
